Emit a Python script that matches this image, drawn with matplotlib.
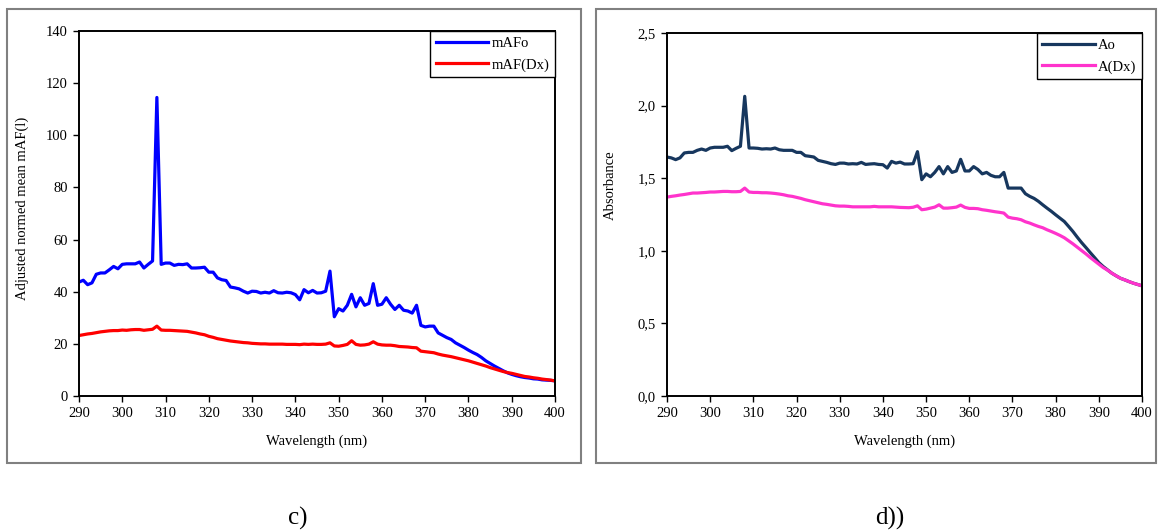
import matplotlib
matplotlib.use("Agg")
import matplotlib.pyplot as plt
import numpy as np
from matplotlib.patches import Rectangle
from matplotlib.ticker import FuncFormatter, MultipleLocator

plt.rcParams['font.family'] = ['Liberation Serif', 'DejaVu Serif']

wavelength = np.arange(290, 401)

# panel c: adjusted normed mean mAF
maf_o = [
    43.7, 44.4, 42.7, 43.4, 46.7, 47.2, 47.2, 48.4, 49.7, 48.8,
    50.5, 50.7, 50.7, 50.7, 51.4, 49.1, 50.5, 51.8, 114.5, 50.5,
    51.0, 51.0, 50.1, 50.5, 50.4, 50.7, 49.1, 49.1, 49.2, 49.4,
    47.5, 47.5, 45.3, 44.6, 44.3, 41.8, 41.5, 41.1, 40.2, 39.5,
    40.2, 40.1, 39.5, 39.8, 39.5, 40.4, 39.6, 39.5, 39.8, 39.6,
    38.9, 36.9, 40.8, 39.6, 40.5, 39.5, 39.6, 40.2, 47.9, 30.4,
    33.5, 32.6, 34.8, 39.0, 34.2, 37.7, 34.8, 35.5, 43.1, 34.8,
    35.2, 37.7, 35.2, 33.2, 34.8, 32.9, 32.6, 31.8, 34.8, 27.1,
    26.5, 26.8, 26.8, 24.2, 23.3, 22.4, 21.7, 20.4, 19.5, 18.6,
    17.6, 16.7, 15.9, 14.8, 13.5, 12.5, 11.5, 10.6, 9.7, 8.9,
    8.3, 7.8, 7.4, 7.1, 6.9, 6.6, 6.5, 6.2, 6.1, 6.0,
    5.8,
]
maf_dx = [
    23.2, 23.5, 23.8, 24.0, 24.3, 24.6, 24.8, 25.0, 25.1, 25.1,
    25.3, 25.2, 25.4, 25.5, 25.5, 25.2, 25.4, 25.6, 26.8, 25.3,
    25.2, 25.2, 25.1, 25.0, 24.9, 24.8, 24.5, 24.2, 23.8, 23.5,
    22.9, 22.5, 22.0, 21.7, 21.4, 21.1, 20.9, 20.7, 20.5, 20.4,
    20.2, 20.1, 20.0, 20.0, 19.9, 19.9, 19.9, 19.9, 19.8, 19.8,
    19.8, 19.7, 19.9, 19.8, 19.9, 19.8, 19.8, 19.9, 20.4, 19.2,
    19.1, 19.4, 19.8, 21.2, 19.8, 19.5, 19.6, 19.9, 20.8, 19.9,
    19.6, 19.5, 19.5, 19.3, 19.0, 18.9, 18.8, 18.6, 18.5, 17.2,
    17.0, 16.8, 16.6, 16.1, 15.7, 15.4, 15.1, 14.7, 14.3, 13.9,
    13.5, 13.0, 12.5, 12.0, 11.5, 10.9, 10.4, 9.9, 9.4, 9.0,
    8.7, 8.3, 7.9, 7.5, 7.3, 7.0, 6.8, 6.5, 6.3, 6.1,
    5.8,
]

# panel d: absorbance
a_o = [
    1.646, 1.640, 1.628, 1.640, 1.674, 1.678, 1.678, 1.692, 1.701, 1.692,
    1.708, 1.713, 1.713, 1.713, 1.720, 1.690, 1.706, 1.720, 2.064, 1.708,
    1.708, 1.706, 1.701, 1.703, 1.701, 1.708, 1.696, 1.692, 1.692, 1.692,
    1.678, 1.678, 1.655, 1.651, 1.646, 1.623, 1.616, 1.609, 1.600, 1.595,
    1.604, 1.604, 1.598, 1.600, 1.598, 1.609, 1.595, 1.598, 1.600, 1.595,
    1.593, 1.570, 1.616, 1.604, 1.611, 1.598, 1.598, 1.600, 1.683, 1.490,
    1.530, 1.510, 1.540, 1.580, 1.530, 1.580, 1.540, 1.550, 1.630, 1.550,
    1.550, 1.580, 1.560, 1.530, 1.540, 1.520, 1.510, 1.510, 1.540, 1.432,
    1.432, 1.432, 1.432, 1.393, 1.375, 1.361, 1.341, 1.317, 1.294, 1.272,
    1.248, 1.225, 1.202, 1.168, 1.133, 1.094, 1.057, 1.023, 0.988, 0.954,
    0.919, 0.892, 0.869, 0.846, 0.828, 0.811, 0.800, 0.788, 0.777, 0.768,
    0.759,
]
a_dx = [
    1.370, 1.375, 1.379, 1.384, 1.388, 1.393, 1.398, 1.398, 1.400, 1.402,
    1.405, 1.405, 1.407, 1.409, 1.409, 1.407, 1.407, 1.409, 1.432, 1.405,
    1.402, 1.402, 1.400, 1.400, 1.398, 1.395, 1.391, 1.386, 1.379, 1.375,
    1.368, 1.361, 1.352, 1.345, 1.338, 1.331, 1.324, 1.320, 1.315, 1.310,
    1.308, 1.308, 1.306, 1.303, 1.303, 1.303, 1.303, 1.303, 1.306, 1.303,
    1.303, 1.303, 1.303, 1.301, 1.299, 1.298, 1.297, 1.300, 1.310, 1.283,
    1.287, 1.294, 1.301, 1.317, 1.294, 1.294, 1.297, 1.301, 1.315, 1.299,
    1.292, 1.292, 1.290, 1.283, 1.279, 1.274, 1.269, 1.265, 1.260, 1.232,
    1.225, 1.221, 1.214, 1.200, 1.191, 1.179, 1.168, 1.159, 1.145, 1.133,
    1.120, 1.106, 1.090, 1.069, 1.048, 1.025, 1.002, 0.979, 0.954, 0.931,
    0.908, 0.885, 0.867, 0.846, 0.828, 0.811, 0.800, 0.788, 0.777, 0.768,
    0.759,
]

fig = plt.figure(figsize=(11.58, 5.30), dpi=100)

# grey outer frames around each panel
for x0, w in [(0.006, 0.4957), (0.5147, 0.4835)]:
    fig.patches.append(Rectangle((x0, 0.1255), w, 0.8575, transform=fig.transFigure,
                                 fill=False, edgecolor='#808080', linewidth=1.5))

ax1 = fig.add_axes([0.0682, 0.2528, 0.4111, 0.6887])
ax2 = fig.add_axes([0.576, 0.2528, 0.4102, 0.6849])


def style(ax):
    for s in ax.spines.values():
        s.set_linewidth(1.4)
        s.set_color('black')
    ax.set_xlim(290, 400)
    ax.xaxis.set_major_locator(MultipleLocator(10))
    ax.tick_params(direction='out', length=4, width=1, labelsize=10.5, pad=4)
    ax.set_xlabel('Wavelength (nm)', fontsize=10.5, labelpad=10)


ax1.plot(wavelength, maf_o, color='#0000ff', lw=2.3, label='mAFo')
ax1.plot(wavelength, maf_dx, color='#ff0000', lw=2.3, label='mAF(Dx)')
style(ax1)
ax1.set_ylim(0, 140)
ax1.yaxis.set_major_locator(MultipleLocator(20))
ax1.set_ylabel('Adjusted normed mean mAF(l)', fontsize=10.5)
ax1.yaxis.set_label_coords(-0.105, 0.515)

ax2.plot(wavelength, a_o, color='#17375e', lw=2.3, label='Ao')
ax2.plot(wavelength, a_dx, color='#ff33cc', lw=2.3, label='A(Dx)')
style(ax2)
ax2.set_ylim(0, 2.5)
ax2.yaxis.set_major_locator(MultipleLocator(0.5))
ax2.yaxis.set_major_formatter(FuncFormatter(lambda v, p: f'{v:.1f}'.replace('.', ',')))
ax2.set_ylabel('Absorbance', fontsize=10.5)
ax2.yaxis.set_label_coords(-0.105, 0.58)

for ax in (ax1, ax2):
    leg = ax.legend(loc='upper right', bbox_to_anchor=(1.0, 1.0), fontsize=10.5,
                    fancybox=False, edgecolor='black', framealpha=1,
                    borderaxespad=0, handlelength=3.6, handletextpad=0.2,
                    labelspacing=0.55, borderpad=0.4)
    leg.get_frame().set_linewidth(1.0)

fig.text(0.2575, 0.0, 'c)', fontsize=18, ha='center', va='bottom')
fig.text(0.768, 0.0, 'd))', fontsize=18, ha='center', va='bottom')

fig.savefig('out.png', dpi=100)
